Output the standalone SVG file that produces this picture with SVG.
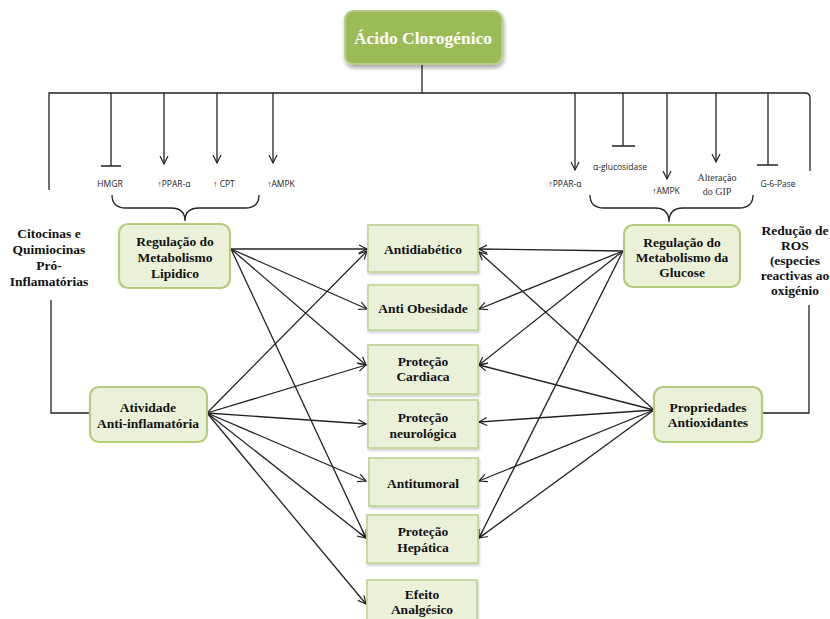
<svg xmlns="http://www.w3.org/2000/svg" width="830" height="619" viewBox="0 0 830 619">
  <defs>
    <marker id="arrow" markerUnits="userSpaceOnUse" markerWidth="12" markerHeight="12" refX="9" refY="5" orient="auto">
      <path d="M1,1 L9,5 L1,9" fill="none" stroke="#222" stroke-width="1.2"/>
    </marker>
    <filter id="shadow" x="-10%" y="-10%" width="130%" height="140%">
      <feGaussianBlur in="SourceAlpha" stdDeviation="2"/>
      <feOffset dx="1" dy="3"/>
      <feComponentTransfer><feFuncA type="linear" slope="0.35"/></feComponentTransfer>
      <feMerge><feMergeNode/><feMergeNode in="SourceGraphic"/></feMerge>
    </filter>
    <filter id="soft" x="-10%" y="-10%" width="125%" height="130%">
      <feGaussianBlur in="SourceAlpha" stdDeviation="1"/>
      <feOffset dx="1" dy="1.5"/>
      <feComponentTransfer><feFuncA type="linear" slope="0.18"/></feComponentTransfer>
      <feMerge><feMergeNode/><feMergeNode in="SourceGraphic"/></feMerge>
    </filter>
    <style>
      .ln { fill: none; stroke: #222; stroke-width: 1.3; }
      .arr { fill: none; stroke: #222; stroke-width: 1.3; marker-end: url(#arrow); }
      .root { fill: #9BBB59; stroke: #B7CE86; stroke-width: 2; }
      .hub { fill: #EBF1D9; stroke: #B5CC7C; stroke-width: 2.2; }
      .eff { fill: #EBF1D9; stroke: #C3D69B; stroke-width: 1.8; }
      .t { font-family: "Liberation Serif", "DejaVu Serif", serif; font-weight: bold; font-size: 13.5px; fill: #111; text-anchor: middle; dominant-baseline: central; }
      .side { font-family: "Liberation Serif", "DejaVu Serif", serif; font-weight: bold; font-size: 13.5px; fill: #111; text-anchor: middle; dominant-baseline: central; }
      .lab { font-family: "Open Sans", "Liberation Sans", sans-serif; font-size: 8.5px; fill: #222; text-anchor: middle; dominant-baseline: central; }
      .labs { font-family: "Liberation Serif", serif; font-size: 10px; fill: #333; text-anchor: middle; dominant-baseline: central; }
    </style>
  </defs>

  <!-- trunk, branches and side lines -->
  <g id="connectors">
    <path class="ln" d="M422,64 V93"/>
    <path class="ln" d="M49,190 V93 H805 Q810,93 810,98 V171"/>
    <!-- lipid branches -->
    <path class="ln" d="M111,93 V166 M101,166 H121"/>
    <path class="arr" d="M164,93 V164"/>
    <path class="arr" d="M217,93 V163"/>
    <path class="arr" d="M273,93 V163"/>
    <!-- glucose branches -->
    <path class="arr" d="M575,93 V170"/>
    <path class="ln" d="M623,93 V146 M612,146 H635"/>
    <path class="arr" d="M667,93 V179"/>
    <path class="arr" d="M716,93 V162"/>
    <path class="ln" d="M768,93 V165 M757,165 H778"/>
    <!-- braces -->
    <path class="ln" d="M112,195 Q112,208 126,208 H171 Q185,208 185,221 Q185,208 199,208 H245 Q259,208 259,195"/>
    <path class="ln" d="M590,195 Q590,208 604,208 H655 Q669,208 669,222 Q669,208 683,208 H739 Q753,208 753,195"/>
    <!-- side links -->
    <path class="ln" d="M51,300 V413 H90"/>
    <path class="ln" d="M809,305 V413 H762"/>

    <!-- Regulação do Metabolismo Lipidico -->
    <path class="arr" d="M231,249 L367,249"/>
    <path class="arr" d="M231,249 L367,309"/>
    <path class="arr" d="M231,249 L366,365"/>
    <path class="arr" d="M231,249 L366,538"/>
    <!-- Atividade Anti-inflamatória -->
    <path class="arr" d="M207,413 L367,251"/>
    <path class="arr" d="M207,413 L366,365"/>
    <path class="arr" d="M207,413 L366,424"/>
    <path class="arr" d="M207,413 L366,481"/>
    <path class="arr" d="M207,413 L366,538"/>
    <path class="arr" d="M207,413 L366,604"/>
    <!-- Regulação do Metabolismo da Glucose -->
    <path class="arr" d="M623,251 L479,249"/>
    <path class="arr" d="M623,251 L479,309"/>
    <path class="arr" d="M623,251 L479,365"/>
    <path class="arr" d="M623,251 L479,538"/>
    <!-- Propriedades Antioxidantes -->
    <path class="arr" d="M654,410 L479,252"/>
    <path class="arr" d="M654,410 L479,365"/>
    <path class="arr" d="M654,410 L479,422"/>
    <path class="arr" d="M654,410 L479,481"/>
    <path class="arr" d="M654,410 L479,538"/>
  </g>

  <!-- branch labels -->
  <g id="labels">
    <text class="lab" x="110" y="183">HMGR</text>
    <text class="lab" x="174" y="183">↑PPAR-α</text>
    <text class="lab" x="224" y="183">↑ CPT</text>
    <text class="lab" x="281" y="183">↑AMPK</text>
    <text class="lab" x="565" y="183">↑PPAR-α</text>
    <text class="lab" x="620" y="166">α-glucosidase</text>
    <text class="lab" x="666" y="190">↑AMPK</text>
    <text class="labs" x="717" y="177">Alteração</text>
    <text class="labs" x="717" y="191">do GIP</text>
    <text class="lab" x="778" y="183">G-6-Pase</text>
  </g>

  <g id="side-left">
    <text class="side" x="49" y="233">Citocinas e</text>
    <text class="side" x="49" y="249">Quimiocinas</text>
    <text class="side" x="49" y="265">Pró-</text>
    <text class="side" x="49" y="281">Inflamatórias</text>
  </g>
  <g id="side-right">
    <text class="side" x="795" y="230">Redução de</text>
    <text class="side" x="795" y="245">ROS</text>
    <text class="side" x="795" y="260">(especies</text>
    <text class="side" x="795" y="275">reactivas ao</text>
    <text class="side" x="795" y="290">oxigénio</text>
  </g>

  <g id="acido-clorogenico">
    <rect class="root" x="345" y="11" width="157" height="53" rx="8" filter="url(#shadow)"/>
    <text class="t" x="423" y="38" style="fill:#fff;font-size:17.5px">Ácido Clorogénico</text>
  </g>

  <g id="lipidico">
    <rect class="hub" x="119" y="224" width="111" height="64" rx="9"/>
    <text class="t" x="175" y="241">Regulação do</text>
    <text class="t" x="175" y="257">Metabolismo</text>
    <text class="t" x="175" y="273">Lipidico</text>
  </g>
  <g id="glucose">
    <rect class="hub" x="624" y="225" width="116" height="62" rx="9"/>
    <text class="t" x="682" y="242">Regulação do</text>
    <text class="t" x="682" y="257">Metabolismo da</text>
    <text class="t" x="682" y="272">Glucose</text>
  </g>
  <g id="anti-inflamatoria">
    <rect class="hub" x="90" y="387" width="117" height="55" rx="9"/>
    <text class="t" x="148" y="407">Atividade</text>
    <text class="t" x="148" y="423">Anti-inflamatória</text>
  </g>
  <g id="antioxidantes">
    <rect class="hub" x="654" y="387" width="108" height="55" rx="9"/>
    <text class="t" x="708" y="407">Propriedades</text>
    <text class="t" x="708" y="422">Antioxidantes</text>
  </g>

  <g id="antidiabetico">
    <rect class="eff" x="368" y="225" width="110" height="47" filter="url(#soft)"/>
    <text class="t" x="423" y="249">Antidiabético</text>
  </g>
  <g id="anti-obesidade">
    <rect class="eff" x="368" y="285" width="110" height="45" filter="url(#soft)"/>
    <text class="t" x="423" y="308">Anti Obesidade</text>
  </g>
  <g id="cardiaca">
    <rect class="eff" x="368" y="345" width="110" height="49" filter="url(#soft)"/>
    <text class="t" x="423" y="361">Proteção</text>
    <text class="t" x="423" y="376">Cardiaca</text>
  </g>
  <g id="neurologica">
    <rect class="eff" x="368" y="400" width="110" height="48" filter="url(#soft)"/>
    <text class="t" x="423" y="417">Proteção</text>
    <text class="t" x="423" y="433">neurológica</text>
  </g>
  <g id="antitumoral">
    <rect class="eff" x="369" y="458" width="109" height="48" filter="url(#soft)"/>
    <text class="t" x="423" y="483">Antitumoral</text>
  </g>
  <g id="hepatica">
    <rect class="eff" x="367" y="515" width="111" height="48" filter="url(#soft)"/>
    <text class="t" x="423" y="531">Proteção</text>
    <text class="t" x="423" y="547">Hepática</text>
  </g>
  <g id="analgesico">
    <rect class="eff" x="367" y="580" width="110" height="45" filter="url(#soft)"/>
    <text class="t" x="422" y="594">Efeito</text>
    <text class="t" x="422" y="609">Analgésico</text>
  </g>
</svg>
